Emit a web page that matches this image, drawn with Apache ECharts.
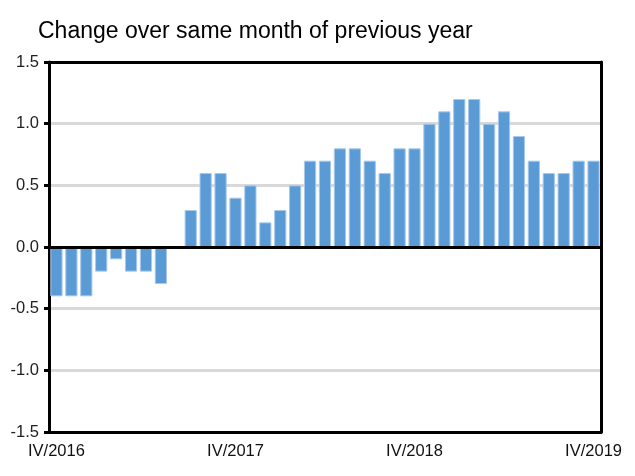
<!DOCTYPE html>
<html><head><meta charset="utf-8">
<script src="https://cdn.jsdelivr.net/npm/echarts@6/dist/echarts.min.js"></script>
<style>html,body{margin:0;padding:0;background:#fff}#c{width:635px;height:476px}</style>
</head><body><div id="c"></div>
<script>
const titleText = 'Change over same month of previous year';
const months = ['IV/2016','V/2016','VI/2016','VII/2016','VIII/2016','IX/2016','X/2016','XI/2016','XII/2016',
 'I/2017','II/2017','III/2017','IV/2017','V/2017','VI/2017','VII/2017','VIII/2017','IX/2017','X/2017','XI/2017','XII/2017',
 'I/2018','II/2018','III/2018','IV/2018','V/2018','VI/2018','VII/2018','VIII/2018','IX/2018','X/2018','XI/2018','XII/2018',
 'I/2019','II/2019','III/2019','IV/2019'];
const values = [-0.4,-0.4,-0.4,-0.2,-0.1,-0.2,-0.2,-0.3,0,
 0.3,0.6,0.6,0.4,0.5,0.2,0.3,0.5,0.7,0.7,0.8,0.8,
 0.7,0.6,0.8,0.8,1.0,1.1,1.2,1.2,1.0,1.1,0.9,0.7,
 0.6,0.6,0.7,0.7];
const yMin = -1.5, yMax = 1.5, yStep = 0.5;

const chart = echarts.init(document.getElementById('c'));
const font = 'Liberation Sans, Arial, sans-serif';
const blackLine = { show: true, onZero: false, lineStyle: { color: '#000', width: 3 } };
chart.setOption({
  animation: false,
  title: { text: titleText, left: 33, top: 15, textStyle: { fontFamily: font, fontSize: 23, fontWeight: 'normal', color: '#000' } },
  grid: { left: 49, right: 34, top: 62, bottom: 44 },
  xAxis: [{
    type: 'category', data: months, position: 'bottom',
    axisLine: blackLine, axisTick: { show: false },
    axisLabel: { interval: 11, color: '#111', fontFamily: font, fontSize: 16.5, margin: 11, showMaxLabel: true }
  }, {
    type: 'category', data: months, position: 'top',
    axisLine: blackLine, axisTick: { show: false }, axisLabel: { show: false }, splitLine: { show: false }
  }],
  yAxis: [{
    type: 'value', min: yMin, max: yMax, interval: yStep, position: 'left',
    axisLine: blackLine,
    axisTick: { show: true, length: 5, lineStyle: { color: '#000', width: 3 } },
    axisLabel: { color: '#222', fontFamily: font, fontSize: 16.5, margin: 10, formatter: v => v.toFixed(1) },
    splitLine: { show: true, lineStyle: { color: '#d9d9d9', width: 3 } }
  }, {
    type: 'value', min: yMin, max: yMax, interval: yStep, position: 'right',
    axisLine: blackLine, axisTick: { show: false }, axisLabel: { show: false }, splitLine: { show: false }
  }],
  series: [{
    type: 'bar', data: values, barCategoryGap: '18%', xAxisIndex: 0, yAxisIndex: 0,
    itemStyle: { color: '#5b9bd5', borderColor: '#a8c9ec', borderWidth: 1 },
    markLine: { silent: true, symbol: 'none', label: { show: false },
      lineStyle: { color: '#000', width: 3, type: 'solid' }, data: [{ yAxis: 0 }] }
  }]
});
</script></body></html>
